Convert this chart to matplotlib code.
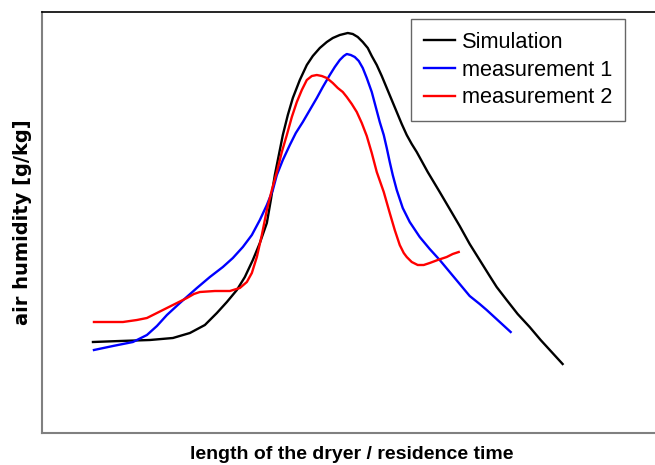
import matplotlib
matplotlib.use("Agg")
import matplotlib.pyplot as plt

# values (arbitrary units, no ticks in the original)
sim_x = [93, 120, 150, 173, 190, 205, 217, 227, 237, 245, 253, 260, 267, 271, 275, 279, 283, 288,
         293, 300, 307, 313, 320, 327, 333, 340, 348, 353, 358, 363, 368, 372, 377, 382, 387, 392,
         397, 402, 407, 412, 417, 428, 440, 450, 460, 470, 480, 490, 497, 507, 518, 530, 541, 552, 563]
sim_y = [342, 341, 340, 338, 333, 325, 313, 302, 290, 277, 260, 243, 223, 200, 175, 155, 135, 115,
         98, 80, 65, 56, 48, 42, 38, 35, 33, 34, 37, 42, 48, 56, 65, 76, 88, 100,
         112, 124, 135, 144, 152, 172, 192, 209, 226, 244, 260, 276, 287, 300, 314, 327, 340, 352, 364]

m1_x = [94, 113, 133, 147, 157, 167, 180, 197, 210, 223, 233, 243, 252, 260, 267, 273, 277, 283,
        290, 296, 303, 310, 317, 323, 330, 335, 340, 344, 347, 351, 355, 359, 363, 367, 372, 376,
        380, 384, 387, 390, 393, 397, 403, 410, 420, 430, 440, 455, 470, 480, 487, 499, 511]
m1_y = [350, 346, 342, 335, 326, 315, 303, 288, 277, 267, 258, 247, 235, 220, 205, 190, 175, 160,
        145, 133, 122, 110, 98, 87, 75, 67, 60, 56, 54, 55, 57, 61, 68, 78, 92, 107,
        122, 135, 148, 162, 175, 190, 208, 222, 237, 249, 260, 278, 296, 304, 310, 321, 332]

m2_x = [94, 123, 137, 147, 157, 167, 177, 187, 194, 200, 215, 230, 240, 247, 252, 257, 262, 267,
        272, 277, 282, 287, 292, 297, 302, 307, 312, 317, 322, 327, 333, 338, 343, 347, 352, 357,
        362, 367, 372, 377, 384, 390, 395, 400, 404, 407, 412, 418, 424, 430, 438, 447, 453, 459]
m2_y = [322, 322, 320, 318, 313, 308, 303, 298, 294, 292, 291, 291, 288, 282, 273, 257, 235, 210,
        190, 172, 152, 135, 117, 102, 90, 80, 76, 75, 76, 78, 83, 88, 92, 97, 104, 112,
        123, 136, 153, 172, 192, 213, 230, 245, 253, 257, 262, 265, 265, 263, 260, 257, 254, 252]

fig = plt.figure(figsize=(6.55, 4.65), dpi=100)
ax = fig.add_axes([42 / 655, 32 / 465, 1 - 42 / 655 + 0.01, 421 / 465])

for x, y, c, name in [(sim_x, sim_y, "black", "Simulation"),
                      (m1_x, m1_y, "#0000ff", "measurement 1"),
                      (m2_x, m2_y, "#ff0000", "measurement 2")]:
    ax.plot(x, y, color=c, lw=1.7, label=name, solid_joinstyle="round")

ax.set_xlim(42, 662)
ax.set_ylim(433, 12)
ax.set_xticks([])
ax.set_yticks([])
ax.spines["right"].set_visible(False)
ax.spines["left"].set_color("#808080")
ax.spines["bottom"].set_color("#808080")
ax.spines["left"].set_linewidth(1.5)
ax.spines["bottom"].set_linewidth(1.5)
ax.spines["top"].set_linewidth(1.2)

ax.set_xlabel("length of the dryer / residence time", family="Liberation Sans",
              fontsize=14, fontweight="bold", labelpad=9)
ax.set_ylabel("air humidity [g/kg]", family="DejaVu Sans",
              fontsize=14, fontweight="bold", labelpad=7)

leg = ax.legend(loc="upper left", bbox_to_anchor=(369 / 620, 1 - 7 / 421),
                prop={"family": "Liberation Sans", "size": 15.7},
                frameon=True, fancybox=False, handlelength=1.45,
                handletextpad=0.3, labelspacing=0.3, borderpad=0.6,
                borderaxespad=0)
leg.get_frame().set_edgecolor("#404040")
leg.get_frame().set_linewidth(1.0)

fig.savefig("out.png", dpi=100)
